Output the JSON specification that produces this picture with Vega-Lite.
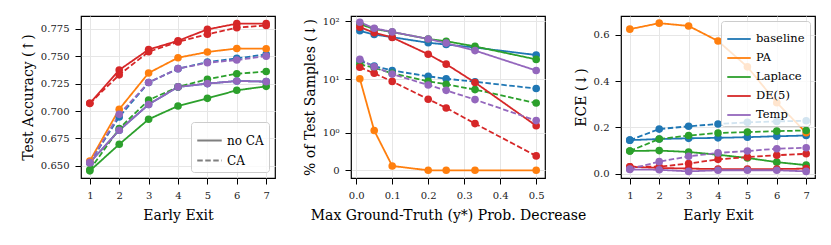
{
  "$schema": "https://vega.github.io/schema/vega-lite/v6.json",
  "background": "white",
  "padding": {"left": 20, "top": 15, "right": 0, "bottom": 0},
  "datasets": {
    "acc": [
      {"method": "baseline", "ca": "no CA", "x": 1, "y": 0.653}, {"method": "baseline", "ca": "no CA", "x": 2, "y": 0.6825}, {"method": "baseline", "ca": "no CA", "x": 3, "y": 0.706}, {"method": "baseline", "ca": "no CA", "x": 4, "y": 0.722}, {"method": "baseline", "ca": "no CA", "x": 5, "y": 0.725}, {"method": "baseline", "ca": "no CA", "x": 6, "y": 0.7274}, {"method": "baseline", "ca": "no CA", "x": 7, "y": 0.7268},
      {"method": "baseline", "ca": "CA", "x": 1, "y": 0.653}, {"method": "baseline", "ca": "CA", "x": 2, "y": 0.6946}, {"method": "baseline", "ca": "CA", "x": 3, "y": 0.726}, {"method": "baseline", "ca": "CA", "x": 4, "y": 0.7386}, {"method": "baseline", "ca": "CA", "x": 5, "y": 0.7447}, {"method": "baseline", "ca": "CA", "x": 6, "y": 0.748}, {"method": "baseline", "ca": "CA", "x": 7, "y": 0.7516},
      {"method": "PA", "ca": "no CA", "x": 1, "y": 0.6545}, {"method": "PA", "ca": "no CA", "x": 2, "y": 0.7016}, {"method": "PA", "ca": "no CA", "x": 3, "y": 0.7347}, {"method": "PA", "ca": "no CA", "x": 4, "y": 0.7486}, {"method": "PA", "ca": "no CA", "x": 5, "y": 0.7538}, {"method": "PA", "ca": "no CA", "x": 6, "y": 0.757}, {"method": "PA", "ca": "no CA", "x": 7, "y": 0.7568},
      {"method": "Laplace", "ca": "no CA", "x": 1, "y": 0.6455}, {"method": "Laplace", "ca": "no CA", "x": 2, "y": 0.6697}, {"method": "Laplace", "ca": "no CA", "x": 3, "y": 0.6925}, {"method": "Laplace", "ca": "no CA", "x": 4, "y": 0.7046}, {"method": "Laplace", "ca": "no CA", "x": 5, "y": 0.7116}, {"method": "Laplace", "ca": "no CA", "x": 6, "y": 0.7189}, {"method": "Laplace", "ca": "no CA", "x": 7, "y": 0.7225},
      {"method": "Laplace", "ca": "CA", "x": 1, "y": 0.6465}, {"method": "Laplace", "ca": "CA", "x": 2, "y": 0.684}, {"method": "Laplace", "ca": "CA", "x": 3, "y": 0.71}, {"method": "Laplace", "ca": "CA", "x": 4, "y": 0.722}, {"method": "Laplace", "ca": "CA", "x": 5, "y": 0.729}, {"method": "Laplace", "ca": "CA", "x": 6, "y": 0.734}, {"method": "Laplace", "ca": "CA", "x": 7, "y": 0.736},
      {"method": "DE(5)", "ca": "no CA", "x": 1, "y": 0.707}, {"method": "DE(5)", "ca": "no CA", "x": 2, "y": 0.7374}, {"method": "DE(5)", "ca": "no CA", "x": 3, "y": 0.756}, {"method": "DE(5)", "ca": "no CA", "x": 4, "y": 0.764}, {"method": "DE(5)", "ca": "no CA", "x": 5, "y": 0.7744}, {"method": "DE(5)", "ca": "no CA", "x": 6, "y": 0.7796}, {"method": "DE(5)", "ca": "no CA", "x": 7, "y": 0.7796},
      {"method": "DE(5)", "ca": "CA", "x": 1, "y": 0.707}, {"method": "DE(5)", "ca": "CA", "x": 2, "y": 0.733}, {"method": "DE(5)", "ca": "CA", "x": 3, "y": 0.754}, {"method": "DE(5)", "ca": "CA", "x": 4, "y": 0.763}, {"method": "DE(5)", "ca": "CA", "x": 5, "y": 0.77}, {"method": "DE(5)", "ca": "CA", "x": 6, "y": 0.776}, {"method": "DE(5)", "ca": "CA", "x": 7, "y": 0.778},
      {"method": "Temp", "ca": "no CA", "x": 1, "y": 0.653}, {"method": "Temp", "ca": "no CA", "x": 2, "y": 0.6825}, {"method": "Temp", "ca": "no CA", "x": 3, "y": 0.706}, {"method": "Temp", "ca": "no CA", "x": 4, "y": 0.722}, {"method": "Temp", "ca": "no CA", "x": 5, "y": 0.725}, {"method": "Temp", "ca": "no CA", "x": 6, "y": 0.7274}, {"method": "Temp", "ca": "no CA", "x": 7, "y": 0.7268},
      {"method": "Temp", "ca": "CA", "x": 1, "y": 0.653}, {"method": "Temp", "ca": "CA", "x": 2, "y": 0.697}, {"method": "Temp", "ca": "CA", "x": 3, "y": 0.726}, {"method": "Temp", "ca": "CA", "x": 4, "y": 0.7386}, {"method": "Temp", "ca": "CA", "x": 5, "y": 0.744}, {"method": "Temp", "ca": "CA", "x": 6, "y": 0.7465}, {"method": "Temp", "ca": "CA", "x": 7, "y": 0.75}
    ],
    "frac": [
      {"method": "baseline", "ca": "no CA", "x": 0.01, "y": 68.2}, {"method": "baseline", "ca": "no CA", "x": 0.05, "y": 59}, {"method": "baseline", "ca": "no CA", "x": 0.1, "y": 53.1}, {"method": "baseline", "ca": "no CA", "x": 0.2, "y": 42.7}, {"method": "baseline", "ca": "no CA", "x": 0.25, "y": 39.8}, {"method": "baseline", "ca": "no CA", "x": 0.33, "y": 35.4}, {"method": "baseline", "ca": "no CA", "x": 0.5, "y": 26.4},
      {"method": "baseline", "ca": "CA", "x": 0.01, "y": 21.2}, {"method": "baseline", "ca": "CA", "x": 0.05, "y": 17.0}, {"method": "baseline", "ca": "CA", "x": 0.1, "y": 14.3}, {"method": "baseline", "ca": "CA", "x": 0.2, "y": 11.35}, {"method": "baseline", "ca": "CA", "x": 0.25, "y": 10.3}, {"method": "baseline", "ca": "CA", "x": 0.33, "y": 9.13}, {"method": "baseline", "ca": "CA", "x": 0.5, "y": 6.93},
      {"method": "PA", "ca": "no CA", "x": 0.01, "y": 10.3}, {"method": "PA", "ca": "no CA", "x": 0.05, "y": 1.11}, {"method": "PA", "ca": "no CA", "x": 0.1, "y": 0.055}, {"method": "PA", "ca": "no CA", "x": 0.2, "y": 0.0}, {"method": "PA", "ca": "no CA", "x": 0.25, "y": 0.0}, {"method": "PA", "ca": "no CA", "x": 0.33, "y": 0.0}, {"method": "PA", "ca": "no CA", "x": 0.5, "y": 0.0},
      {"method": "Laplace", "ca": "no CA", "x": 0.01, "y": 88.5}, {"method": "Laplace", "ca": "no CA", "x": 0.05, "y": 73.4}, {"method": "Laplace", "ca": "no CA", "x": 0.1, "y": 65}, {"method": "Laplace", "ca": "no CA", "x": 0.2, "y": 49.6}, {"method": "Laplace", "ca": "no CA", "x": 0.25, "y": 45.4}, {"method": "Laplace", "ca": "no CA", "x": 0.33, "y": 37}, {"method": "Laplace", "ca": "no CA", "x": 0.5, "y": 22.2},
      {"method": "Laplace", "ca": "CA", "x": 0.01, "y": 18.4}, {"method": "Laplace", "ca": "CA", "x": 0.05, "y": 15.9}, {"method": "Laplace", "ca": "CA", "x": 0.1, "y": 12.8}, {"method": "Laplace", "ca": "CA", "x": 0.2, "y": 9.25}, {"method": "Laplace", "ca": "CA", "x": 0.25, "y": 8.26}, {"method": "Laplace", "ca": "CA", "x": 0.33, "y": 6.64}, {"method": "Laplace", "ca": "CA", "x": 0.5, "y": 3.81},
      {"method": "DE(5)", "ca": "no CA", "x": 0.01, "y": 78.7}, {"method": "DE(5)", "ca": "no CA", "x": 0.05, "y": 63.2}, {"method": "DE(5)", "ca": "no CA", "x": 0.1, "y": 52.4}, {"method": "DE(5)", "ca": "no CA", "x": 0.2, "y": 27.2}, {"method": "DE(5)", "ca": "no CA", "x": 0.25, "y": 18.4}, {"method": "DE(5)", "ca": "no CA", "x": 0.33, "y": 8.85}, {"method": "DE(5)", "ca": "no CA", "x": 0.5, "y": 1.4},
      {"method": "DE(5)", "ca": "CA", "x": 0.01, "y": 16.3}, {"method": "DE(5)", "ca": "CA", "x": 0.05, "y": 12.8}, {"method": "DE(5)", "ca": "CA", "x": 0.1, "y": 9.25}, {"method": "DE(5)", "ca": "CA", "x": 0.2, "y": 4.48}, {"method": "DE(5)", "ca": "CA", "x": 0.25, "y": 3.1}, {"method": "DE(5)", "ca": "CA", "x": 0.33, "y": 1.547}, {"method": "DE(5)", "ca": "CA", "x": 0.5, "y": 0.225},
      {"method": "Temp", "ca": "no CA", "x": 0.01, "y": 95.3}, {"method": "Temp", "ca": "no CA", "x": 0.05, "y": 75.3}, {"method": "Temp", "ca": "no CA", "x": 0.1, "y": 65.3}, {"method": "Temp", "ca": "no CA", "x": 0.2, "y": 49.6}, {"method": "Temp", "ca": "no CA", "x": 0.25, "y": 42.1}, {"method": "Temp", "ca": "no CA", "x": 0.33, "y": 31.4}, {"method": "Temp", "ca": "no CA", "x": 0.5, "y": 14.3},
      {"method": "Temp", "ca": "CA", "x": 0.01, "y": 22.2}, {"method": "Temp", "ca": "CA", "x": 0.05, "y": 16.6}, {"method": "Temp", "ca": "CA", "x": 0.1, "y": 12.4}, {"method": "Temp", "ca": "CA", "x": 0.2, "y": 8.0}, {"method": "Temp", "ca": "CA", "x": 0.25, "y": 6.44}, {"method": "Temp", "ca": "CA", "x": 0.33, "y": 4.4}, {"method": "Temp", "ca": "CA", "x": 0.5, "y": 1.776}
    ],
    "ece": [
      {"method": "baseline", "ca": "no CA", "x": 1, "y": 0.145}, {"method": "baseline", "ca": "no CA", "x": 2, "y": 0.15}, {"method": "baseline", "ca": "no CA", "x": 3, "y": 0.153}, {"method": "baseline", "ca": "no CA", "x": 4, "y": 0.155}, {"method": "baseline", "ca": "no CA", "x": 5, "y": 0.158}, {"method": "baseline", "ca": "no CA", "x": 6, "y": 0.162}, {"method": "baseline", "ca": "no CA", "x": 7, "y": 0.165},
      {"method": "baseline", "ca": "CA", "x": 1, "y": 0.145}, {"method": "baseline", "ca": "CA", "x": 2, "y": 0.193}, {"method": "baseline", "ca": "CA", "x": 3, "y": 0.205}, {"method": "baseline", "ca": "CA", "x": 4, "y": 0.215}, {"method": "baseline", "ca": "CA", "x": 5, "y": 0.222}, {"method": "baseline", "ca": "CA", "x": 6, "y": 0.226}, {"method": "baseline", "ca": "CA", "x": 7, "y": 0.229},
      {"method": "PA", "ca": "no CA", "x": 1, "y": 0.625}, {"method": "PA", "ca": "no CA", "x": 2, "y": 0.651}, {"method": "PA", "ca": "no CA", "x": 3, "y": 0.639}, {"method": "PA", "ca": "no CA", "x": 4, "y": 0.574}, {"method": "PA", "ca": "no CA", "x": 5, "y": 0.462}, {"method": "PA", "ca": "no CA", "x": 6, "y": 0.307}, {"method": "PA", "ca": "no CA", "x": 7, "y": 0.177},
      {"method": "Laplace", "ca": "no CA", "x": 1, "y": 0.098}, {"method": "Laplace", "ca": "no CA", "x": 2, "y": 0.1}, {"method": "Laplace", "ca": "no CA", "x": 3, "y": 0.094}, {"method": "Laplace", "ca": "no CA", "x": 4, "y": 0.082}, {"method": "Laplace", "ca": "no CA", "x": 5, "y": 0.068}, {"method": "Laplace", "ca": "no CA", "x": 6, "y": 0.05}, {"method": "Laplace", "ca": "no CA", "x": 7, "y": 0.037},
      {"method": "Laplace", "ca": "CA", "x": 1, "y": 0.098}, {"method": "Laplace", "ca": "CA", "x": 2, "y": 0.15}, {"method": "Laplace", "ca": "CA", "x": 3, "y": 0.165}, {"method": "Laplace", "ca": "CA", "x": 4, "y": 0.176}, {"method": "Laplace", "ca": "CA", "x": 5, "y": 0.18}, {"method": "Laplace", "ca": "CA", "x": 6, "y": 0.184}, {"method": "Laplace", "ca": "CA", "x": 7, "y": 0.187},
      {"method": "DE(5)", "ca": "no CA", "x": 1, "y": 0.03}, {"method": "DE(5)", "ca": "no CA", "x": 2, "y": 0.025}, {"method": "DE(5)", "ca": "no CA", "x": 3, "y": 0.022}, {"method": "DE(5)", "ca": "no CA", "x": 4, "y": 0.02}, {"method": "DE(5)", "ca": "no CA", "x": 5, "y": 0.02}, {"method": "DE(5)", "ca": "no CA", "x": 6, "y": 0.02}, {"method": "DE(5)", "ca": "no CA", "x": 7, "y": 0.022},
      {"method": "DE(5)", "ca": "CA", "x": 1, "y": 0.03}, {"method": "DE(5)", "ca": "CA", "x": 2, "y": 0.03}, {"method": "DE(5)", "ca": "CA", "x": 3, "y": 0.044}, {"method": "DE(5)", "ca": "CA", "x": 4, "y": 0.062}, {"method": "DE(5)", "ca": "CA", "x": 5, "y": 0.072}, {"method": "DE(5)", "ca": "CA", "x": 6, "y": 0.08}, {"method": "DE(5)", "ca": "CA", "x": 7, "y": 0.086},
      {"method": "Temp", "ca": "no CA", "x": 1, "y": 0.018}, {"method": "Temp", "ca": "no CA", "x": 2, "y": 0.017}, {"method": "Temp", "ca": "no CA", "x": 3, "y": 0.01}, {"method": "Temp", "ca": "no CA", "x": 4, "y": 0.015}, {"method": "Temp", "ca": "no CA", "x": 5, "y": 0.015}, {"method": "Temp", "ca": "no CA", "x": 6, "y": 0.015}, {"method": "Temp", "ca": "no CA", "x": 7, "y": 0.01},
      {"method": "Temp", "ca": "CA", "x": 1, "y": 0.02}, {"method": "Temp", "ca": "CA", "x": 2, "y": 0.052}, {"method": "Temp", "ca": "CA", "x": 3, "y": 0.075}, {"method": "Temp", "ca": "CA", "x": 4, "y": 0.09}, {"method": "Temp", "ca": "CA", "x": 5, "y": 0.098}, {"method": "Temp", "ca": "CA", "x": 6, "y": 0.108}, {"method": "Temp", "ca": "CA", "x": 7, "y": 0.112}
    ]
  },
  "bounds": "flush",
  "spacing": 76,
  "resolve": {
    "scale": {"x": "independent", "y": "independent", "color": "independent", "strokeDash": "independent"},
    "legend": {"color": "independent", "strokeDash": "independent"}
  },
  "hconcat": [
    {
      "width": 194, "height": 162,
      "data": {"name": "acc"},
      "layer": [
        {
          "mark": {"type": "line", "strokeWidth": 1.8},
          "encoding": {
            "x": {"field": "x", "type": "quantitative", "scale": {"domain": [0.7, 7.3], "nice": false, "zero": false}, "axis": {"values": [1, 2, 3, 4, 5, 6, 7], "tickCount": 50, "title": "Early Exit", "format": "d"}},
            "y": {"field": "y", "type": "quantitative", "scale": {"domain": [0.639, 0.7866], "nice": false, "zero": false}, "axis": {"values": [0.65, 0.675, 0.7, 0.725, 0.75, 0.775], "tickCount": 50, "format": ".3f", "title": "Test Accuracy (↑)"}},
            "color": {"field": "method", "type": "nominal", "scale": {"domain": ["baseline", "PA", "Laplace", "DE(5)", "Temp"], "range": ["#1f77b4", "#ff7f0e", "#2ca02c", "#d62728", "#9467bd"]}, "legend": null},
            "strokeDash": {"field": "ca", "type": "nominal", "scale": {"domain": ["no CA", "CA"], "range": [[1, 0], [5.5, 2.5]]}, "legend": {"title": null, "orient": "bottom-right", "offset": 6, "symbolType": "stroke", "symbolStrokeColor": "#7f7f7f", "symbolStrokeWidth": 1.8, "symbolSize": 600, "labelFontSize": 12, "rowPadding": -4}}
          }
        },
        {
          "mark": {"type": "point", "filled": true, "opacity": 1, "size": 58},
          "encoding": {
            "x": {"field": "x", "type": "quantitative"},
            "y": {"field": "y", "type": "quantitative"},
            "color": {"field": "method", "type": "nominal", "legend": null}
          }
        }
      ]
    },
    {
      "width": 194, "height": 162,
      "data": {"name": "frac"},
      "layer": [
        {
          "mark": {"type": "line", "strokeWidth": 1.8},
          "encoding": {
            "x": {"field": "x", "type": "quantitative", "scale": {"domain": [-0.0145, 0.5245], "nice": false, "zero": false}, "axis": {"values": [0, 0.1, 0.2, 0.3, 0.4, 0.5], "tickCount": 50, "format": ".1f", "title": "Max Ground-Truth (y*) Prob. Decrease"}},
            "y": {"field": "y", "type": "quantitative", "scale": {"type": "symlog", "constant": 0.3, "domain": [-0.105, 121.6], "nice": false, "zero": false}, "axis": {"values": [0, 1, 10, 100], "tickCount": 50, "labelExpr": "datum.value == 0 ? '0' : datum.value == 1 ? '10⁰' : datum.value == 10 ? '10¹' : '10²'", "title": "% of Test Samples (↓)"}},
            "color": {"field": "method", "type": "nominal", "scale": {"domain": ["baseline", "PA", "Laplace", "DE(5)", "Temp"], "range": ["#1f77b4", "#ff7f0e", "#2ca02c", "#d62728", "#9467bd"]}, "legend": null},
            "strokeDash": {"field": "ca", "type": "nominal", "scale": {"domain": ["no CA", "CA"], "range": [[1, 0], [5.5, 2.5]]}, "legend": null}
          }
        },
        {
          "mark": {"type": "point", "filled": true, "opacity": 1, "size": 58},
          "encoding": {
            "x": {"field": "x", "type": "quantitative"},
            "y": {"field": "y", "type": "quantitative"},
            "color": {"field": "method", "type": "nominal", "legend": null}
          }
        }
      ]
    },
    {
      "width": 194, "height": 162,
      "data": {"name": "ece"},
      "layer": [
        {
          "mark": {"type": "line", "strokeWidth": 1.8},
          "encoding": {
            "x": {"field": "x", "type": "quantitative", "scale": {"domain": [0.7, 7.3], "nice": false, "zero": false}, "axis": {"values": [1, 2, 3, 4, 5, 6, 7], "tickCount": 50, "title": "Early Exit", "format": "d"}},
            "y": {"field": "y", "type": "quantitative", "scale": {"domain": [-0.0186, 0.682], "nice": false, "zero": false}, "axis": {"values": [0, 0.2, 0.4, 0.6], "tickCount": 50, "format": ".1f", "title": "ECE (↓)"}},
            "color": {"field": "method", "type": "nominal", "scale": {"domain": ["baseline", "PA", "Laplace", "DE(5)", "Temp"], "range": ["#1f77b4", "#ff7f0e", "#2ca02c", "#d62728", "#9467bd"]}, "legend": {"title": null, "orient": "top-right", "offset": 5, "symbolType": "stroke", "symbolStrokeWidth": 1.8, "symbolSize": 550, "labelFontSize": 11.5, "rowPadding": -3}},
            "strokeDash": {"field": "ca", "type": "nominal", "scale": {"domain": ["no CA", "CA"], "range": [[1, 0], [5.5, 2.5]]}, "legend": null}
          }
        },
        {
          "mark": {"type": "point", "filled": true, "opacity": 1, "size": 58},
          "encoding": {
            "x": {"field": "x", "type": "quantitative"},
            "y": {"field": "y", "type": "quantitative"},
            "color": {"field": "method", "type": "nominal", "legend": null}
          }
        }
      ]
    }
  ],
  "config": {
    "font": "DejaVu Serif",
    "view": {"stroke": "black", "strokeWidth": 1.2},
    "axis": {"domain": false, "grid": true, "gridColor": "#e6e6e6", "gridWidth": 1, "tickColor": "black", "tickSize": 6, "tickWidth": 1, "labelFontSize": 10, "labelColor": "#222222", "labelOverlap": false, "titleFontSize": 14, "titleFontWeight": "normal", "titleColor": "black"},
    "axisX": {"labelPadding": 6, "titlePadding": 8},
    "axisY": {"labelPadding": 6, "titlePadding": 5},
    "legend": {"fillColor": "rgba(255,255,255,0.8)", "strokeColor": "#cccccc", "cornerRadius": 3, "padding": 5, "labelColor": "black", "labelFont": "DejaVu Serif"}
  }
}
